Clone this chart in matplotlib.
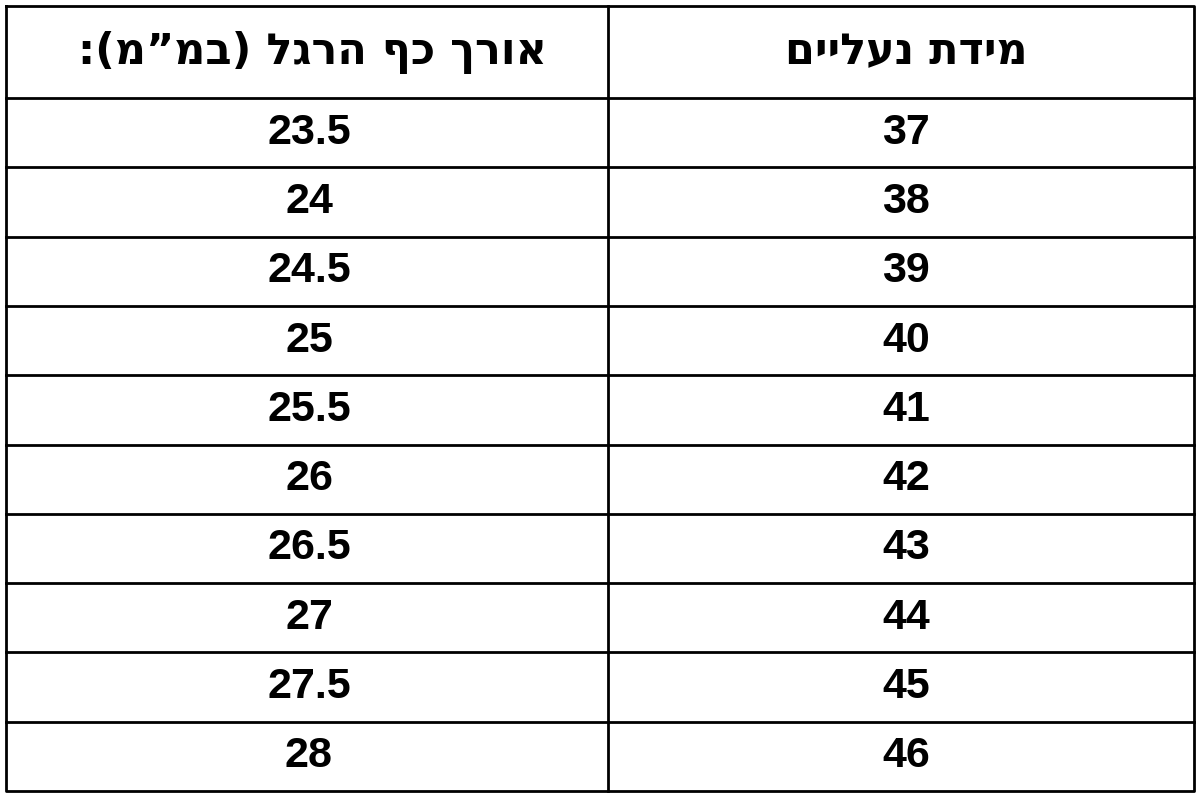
import matplotlib.pyplot as plt

# Hebrew headers (logical order); reversed for display since matplotlib has no bidi
header_right = 'מידת נעליים'
header_left_visual = ':(מ”מב) לגרה ףכ ךרוא'
shoe_sizes = ['37', '38', '39', '40', '41', '42', '43', '44', '45', '46']
foot_length = ['23.5', '24', '24.5', '25', '25.5', '26', '26.5', '27', '27.5', '28']

W, H = 1200, 800
fig = plt.figure(figsize=(12, 8), dpi=100)
ax = fig.add_axes([0, 0, 1, 1])
ax.set_xlim(0, W)
ax.set_ylim(H, 0)
ax.axis('off')

x0, x1, xm = 6, 1194, 608
y_top, y_head = 6, 98
row_h = 69.3
n = len(shoe_sizes)
y_bot = y_head + n * row_h

lw = 2
ax.plot([x0, x1, x1, x0, x0], [y_top, y_top, y_bot, y_bot, y_top], color='black', lw=lw)
ax.plot([xm, xm], [y_top, y_bot], color='black', lw=lw)
for i in range(n):
    y = y_head + i * row_h
    ax.plot([x0, x1], [y, y], color='black', lw=lw)

fam = ['DejaVu Sans', 'Noto Sans']
cl, cr = (x0 + xm) / 2, (xm + x1) / 2
ax.text(cl + 5, (y_top + y_head) / 2, header_left_visual, ha='center', va='center',
        fontsize=31, fontweight='bold', family=fam)
ax.text(cr + 5, (y_top + y_head) / 2, header_right[::-1], ha='center', va='center',
        fontsize=31, fontweight='bold', family=fam)
num_fam = ['Liberation Sans', 'DejaVu Sans']
for i in range(n):
    yc = y_head + (i + 0.5) * row_h
    ax.text(cl + 2, yc, foot_length[i], ha='center', va='center', fontsize=31,
            fontweight='bold', family=num_fam)
    ax.text(cr + 5, yc, shoe_sizes[i], ha='center', va='center', fontsize=31,
            fontweight='bold', family=num_fam)

fig.savefig('out.png', dpi=100, facecolor='white')
